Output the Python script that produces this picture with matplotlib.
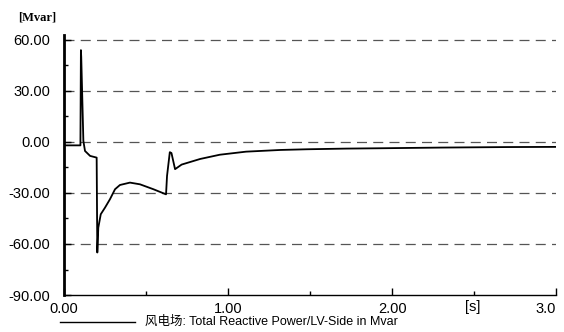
import matplotlib
matplotlib.use('Agg')
import matplotlib.pyplot as plt
from matplotlib.ticker import MultipleLocator

# reactive power of the wind farm
t = [0.0, 0.100, 0.103, 0.105, 0.118, 0.128, 0.159, 0.199, 0.203, 0.209, 0.224,
     0.25, 0.28, 0.311, 0.341, 0.402, 0.463, 0.545, 0.622, 0.628, 0.645, 0.655,
     0.677, 0.717, 0.83, 0.95, 1.11, 1.32, 1.48, 1.72, 1.93, 2.3, 2.7, 3.0]
q = [-2.0, -2.0, 54.0, 50.0, 0.6, -5.3, -8.2, -9.2, -65.0, -50.4, -42.5,
     -38.6, -33.7, -27.8, -25.3, -23.9, -24.9, -27.8, -30.8, -20.0, -6.0, -6.5,
     -16.0, -13.3, -10.0, -7.5, -5.7, -4.7, -4.3, -3.9, -3.7, -3.3, -3.0, -2.9]

yticks = [-90, -60, -30, 0, 30, 60]
xticks = [0, 1, 2, 3]
xlabels = ['0.00', '1.00', '2.00', '3.0']
legend_text = '风电场: Total Reactive Power/LV-Side in Mvar'

fam = ['Liberation Sans', 'Noto Sans CJK SC']
plt.rcParams['font.family'] = fam

fig = plt.figure(figsize=(5.64, 3.32), dpi=100)
ax = fig.add_axes([0.1135, 0.1114, 0.8725, 0.7832])

ax.plot(t, q, color='black', lw=1.3)

ax.set_xlim(0, 3)
ax.set_ylim(-90, 62.9)
ax.set_yticks(yticks)
ax.set_yticklabels(['%.2f' % v for v in yticks])
ax.set_xticks(xticks)
ax.set_xticklabels(xlabels)
ax.get_xticklabels()[-1].set_horizontalalignment('right')
ax.xaxis.set_minor_locator(MultipleLocator(0.5))
ax.yaxis.set_minor_locator(MultipleLocator(15))
ax.tick_params(axis='both', which='both', direction='in', labelsize=10.5,
               color='black')
ax.tick_params(axis='both', which='major', length=5, width=1)
ax.tick_params(axis='both', which='minor', length=3, width=1)
ax.tick_params(axis='y', pad=10)
ax.tick_params(axis='x', pad=5)

for v in yticks[1:]:
    ax.axhline(v, color='#555555', lw=0.9, ls=(0, (8, 5)), zorder=0)

ax.spines['top'].set_visible(False)
ax.spines['right'].set_visible(False)
ax.spines['left'].set_linewidth(2)
ax.spines['bottom'].set_linewidth(1)

ax.text(2.49, -0.046, '[s]', transform=ax.get_xaxis_transform(), ha='center',
        va='center', fontsize=10.5)
fig.text(0.032, 0.948, '[Mvar]', fontsize=9, fontweight='bold',
         family='Liberation Serif', va='center')

# legend line and label below the axes
fig.add_artist(plt.Line2D([0.106, 0.24], [0.03, 0.03], color='black', lw=1,
                          transform=fig.transFigure))
fig.text(0.257, 0.03, legend_text, fontsize=9, va='center')

fig.savefig('out.png', dpi=100)
